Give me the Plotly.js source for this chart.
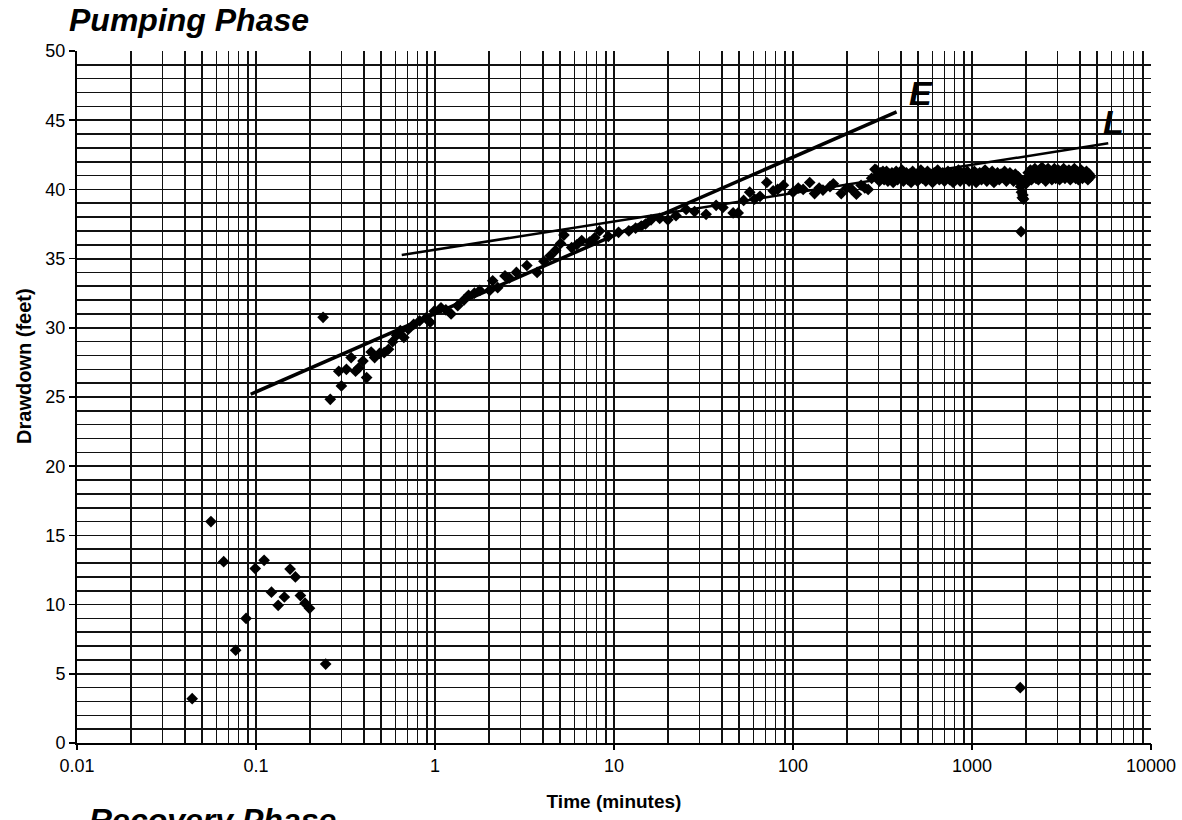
<!DOCTYPE html>
<html>
<head>
<meta charset="utf-8">
<script src="https://cdn.plot.ly/plotly-3.0.1.min.js"></script>
<style>html,body{margin:0;padding:0;background:#fff;overflow:hidden;}#chart{width:1182px;height:820px;}</style>
</head>
<body>
<div id="chart"></div>
<script>
// ---- Data (time in minutes, drawdown in feet) ----
const earlyTime = [0.044, 0.056, 0.066, 0.077, 0.088, 0.099, 0.111, 0.122, 0.133, 0.144, 0.155, 0.166, 0.177, 0.188, 0.199, 0.245];
const earlyDrawdown = [3.2, 16.0, 13.1, 6.7, 9.0, 12.6, 13.2, 10.9, 9.95, 10.55, 12.57, 12.0, 10.65, 10.1, 9.73, 5.7];

const pumpTime = [0.237, 0.26, 0.29, 0.30, 0.32, 0.34, 0.36, 0.375, 0.396, 0.415, 0.44, 0.46, 0.49, 0.52, 0.55, 0.58, 0.61, 0.64, 0.67, 0.71,
  0.76, 0.82, 0.89, 0.94, 0.99, 1.08, 1.15, 1.23, 1.34, 1.45, 1.54, 1.66, 1.78, 2.02, 2.1, 2.24, 2.46, 2.6, 2.85, 3.26,
  3.72, 4.06, 4.4, 4.72, 5.03, 5.25, 5.8, 6.2, 6.6, 7.3, 7.8, 8.3, 9.3, 10.6, 12.1, 13.2, 14.2, 15.0, 16.1, 18.0,
  20.0, 22.2, 25.3, 28.2, 32.7, 37.2, 40.6, 46.3, 49.4, 53, 57.3, 61, 65.4, 71.4, 77.5, 82, 88.4, 100, 107, 114,
  124, 132, 140, 147, 161, 168, 186, 200, 213, 226, 240, 252, 263, 275, 287];
const pumpDrawdown = [30.76, 24.83, 26.86, 25.8, 27.0, 27.85, 26.86, 27.1, 27.6, 26.4, 28.25, 27.85, 28.15, 28.2, 28.45, 29.0, 29.46, 29.8, 29.3, 29.9,
  30.25, 30.5, 30.7, 30.4, 31.2, 31.45, 31.3, 31.0, 31.6, 32.0, 32.35, 32.5, 32.7, 32.7, 33.4, 32.9, 33.75, 33.6, 34.0, 34.5,
  34.0, 34.8, 35.2, 35.6, 36.1, 36.7, 35.8, 36.0, 36.3, 36.2, 36.5, 37.0, 36.6, 36.9, 37.0, 37.2, 37.35, 37.5, 37.8, 37.9,
  37.8, 38.1, 38.55, 38.4, 38.2, 38.85, 38.7, 38.3, 38.3, 39.2, 39.8, 39.3, 39.5, 40.5, 39.9, 40.0, 40.3, 39.8, 40.1, 40.0,
  40.5, 39.7, 40.1, 39.95, 40.2, 40.4, 39.7, 40.1, 40.0, 39.65, 40.3, 40.1, 40.0, 40.8, 41.45];

// dense band before the dip (about 290-1840 min)
const bandTime = [292, 296, 300, 304, 308, 313, 318, 323, 328, 333, 339, 345, 351, 357, 363, 370, 377, 384, 391, 398,
  406, 414, 422, 430, 439, 448, 457, 466, 476, 486, 496, 507, 518, 529, 540, 552, 564, 576, 589, 602,
  615, 629, 643, 657, 672, 687, 702, 718, 734, 751, 768, 785, 803, 821, 840, 859, 879, 899, 920, 941,
  963, 985, 1008, 1031, 1055, 1079, 1104, 1130, 1156, 1183, 1210, 1238, 1267, 1296, 1326, 1357, 1388, 1420, 1453, 1487,
  1521, 1556, 1592, 1629, 1667, 1705, 1745, 1785, 1815, 1835];
const bandDrawdown = [41.4, 40.9, 41.1, 40.6, 41.2, 40.8, 41.3, 40.7, 41.0, 41.3, 40.6, 41.1, 40.8, 41.2, 40.5, 41.0, 41.3, 40.7, 41.1, 40.9,
  41.4, 40.6, 41.0, 41.2, 40.7, 41.1, 40.5, 41.3, 40.9, 41.0, 40.6, 41.2, 41.4, 40.8, 41.0, 40.6, 41.3, 40.9, 41.1, 40.5,
  41.2, 40.8, 41.4, 40.7, 41.0, 41.2, 40.6, 40.9, 41.3, 40.7, 41.1, 40.5, 41.2, 40.9, 41.4, 40.6, 41.0, 41.2, 40.8, 41.3,
  40.6, 41.0, 40.9, 41.3, 40.5, 41.1, 41.2, 40.7, 41.0, 41.4, 40.6, 41.1, 40.8, 41.3, 40.5, 41.0, 41.2, 40.7, 41.1, 40.9,
  41.3, 40.6, 41.0, 41.2, 40.8, 40.6, 41.1, 40.7, 40.9, 40.6];

// the dip near 1900 min (including the two outliers)
const dipTime = [1870, 1890, 1910, 1925, 1940, 1880, 1860];
const dipDrawdown = [40.2, 39.8, 39.4, 39.6, 39.3, 36.95, 4.0];

// dense band after the dip (about 2000-4580 min)
const lateTime = [2000, 2030, 2060, 2090, 2120, 2150, 2180, 2210, 2245, 2280, 2315, 2350, 2385, 2420, 2460, 2500, 2540, 2580, 2620, 2660,
  2705, 2750, 2795, 2840, 2885, 2935, 2985, 3035, 3085, 3140, 3195, 3250, 3305, 3360, 3420, 3480, 3540, 3600, 3665, 3730,
  3795, 3860, 3930, 4000, 4070, 4140, 4210, 4285, 4360, 4440, 4520, 4580];
const lateDrawdown = [40.4, 40.8, 41.2, 40.9, 41.4, 40.7, 41.3, 41.0, 41.5, 40.8, 41.2, 40.7, 41.4, 41.0, 41.6, 40.8, 41.3, 40.6, 41.1, 41.5,
  40.9, 41.3, 40.7, 41.2, 41.5, 40.8, 41.1, 41.4, 40.7, 41.2, 40.9, 41.5, 40.8, 41.3, 41.0, 41.4, 40.7, 41.2, 40.9, 41.5,
  40.8, 41.3, 40.7, 41.1, 41.4, 40.8, 41.2, 40.9, 41.3, 40.7, 41.1, 40.9];

// Straight-line fits drawn on the plot
const lineE_time = [0.0934, 379];
const lineE_drawdown = [25.2, 45.6];
const lineL_time = [0.652, 5770];
const lineL_drawdown = [35.26, 43.33];

const decades = [0.01, 0.1, 1, 10, 100, 1000, 10000];
const decadeLabels = ['0.01', '0.1', '1', '10', '100', '1000', '10000'];

// grid positions (1..9 x each decade)
const gridVals = [];
decades.forEach((d, i) => {
  gridVals.push(d);
  if (i < decades.length - 1) for (let k = 2; k <= 9; k++) gridVals.push(d * k);
});

const allTime = earlyTime.concat(pumpTime, bandTime, dipTime, lateTime);
const allDrawdown = earlyDrawdown.concat(pumpDrawdown, bandDrawdown, dipDrawdown, lateDrawdown);

const gridCol = '#111';
const traces = [
  {x: allTime, y: allDrawdown, type: 'scatter', mode: 'markers', name: 'Drawdown',
   marker: {symbol: 'diamond', size: 9, color: '#000'}},
  {x: lineE_time, y: lineE_drawdown, type: 'scatter', mode: 'lines', name: 'E', xaxis: 'x2',
   line: {color: '#000', width: 3.5}},
  {x: lineL_time, y: lineL_drawdown, type: 'scatter', mode: 'lines', name: 'L', xaxis: 'x2',
   line: {color: '#000', width: 2.5}}
];

const layout = {
  width: 1182, height: 820,
  margin: {l: 77, r: 31, t: 51, b: 77},
  paper_bgcolor: '#fff', plot_bgcolor: '#fff',
  showlegend: false,
  font: {family: 'Liberation Sans, Arial, sans-serif', color: '#000'},
  xaxis: {
    type: 'log', range: [-2, 4],
    tickmode: 'array', tickvals: gridVals, showticklabels: false, ticks: '',
    showgrid: true, gridcolor: gridCol, gridwidth: 1.5,
    showline: true, linecolor: '#000', linewidth: 2,
    zeroline: false
  },
  xaxis2: {
    type: 'log', range: [-2, 4], overlaying: 'x', anchor: 'y', side: 'bottom',
    tickmode: 'array', tickvals: decades, ticktext: decadeLabels,
    ticks: 'outside', ticklen: 6, tickwidth: 1.5, tickcolor: '#000',
    tickfont: {size: 18, color: '#000'},
    showgrid: false, zeroline: false, showline: false,
    title: {text: '<b>Time (minutes)</b>', font: {size: 19, color: '#000'}, standoff: 20}
  },
  yaxis: {
    range: [0, 50], dtick: 5, tick0: 0,
    ticks: 'outside', ticklen: 6, tickwidth: 1.5, tickcolor: '#000',
    tickfont: {size: 18, color: '#000'},
    showgrid: true, gridcolor: gridCol, gridwidth: 1.8,
    minor: {dtick: 1, showgrid: true, gridcolor: gridCol, gridwidth: 1.6, ticks: ''},
    showline: true, linecolor: '#000', linewidth: 2,
    zeroline: false
  },
  annotations: [
    {text: '<b>Drawdown (feet)</b>', xref: 'paper', yref: 'paper', x: -0.0493, y: 0.545,
     xanchor: 'center', yanchor: 'middle', textangle: -90, showarrow: false, font: {size: 20, color: '#000'}},
    {text: '<b><i>Pumping Phase</i></b>', xref: 'paper', yref: 'paper', x: -0.009, y: 1.045,
     xanchor: 'left', yanchor: 'middle', showarrow: false, font: {size: 32, color: '#000'}},
    {text: '<b><i>Recovery Phase</i></b>', xref: 'paper', yref: 'paper', x: 0.009, y: -0.083,
     xanchor: 'left', yanchor: 'top', showarrow: false, font: {size: 32, color: '#000'}},
    {text: '<b><i>E</i></b>', xref: 'x', yref: 'y', x: Math.log10(519), y: 46.97,
     xanchor: 'center', yanchor: 'middle', showarrow: false, font: {size: 34, color: '#000'}},
    {text: '<b><i>L</i></b>', xref: 'x', yref: 'y', x: Math.log10(6210), y: 44.87,
     xanchor: 'center', yanchor: 'middle', showarrow: false, font: {size: 34, color: '#000'}}
  ]
};

Plotly.newPlot('chart', traces, layout, {displayModeBar: false, staticPlot: true});
</script>
</body>
</html>
